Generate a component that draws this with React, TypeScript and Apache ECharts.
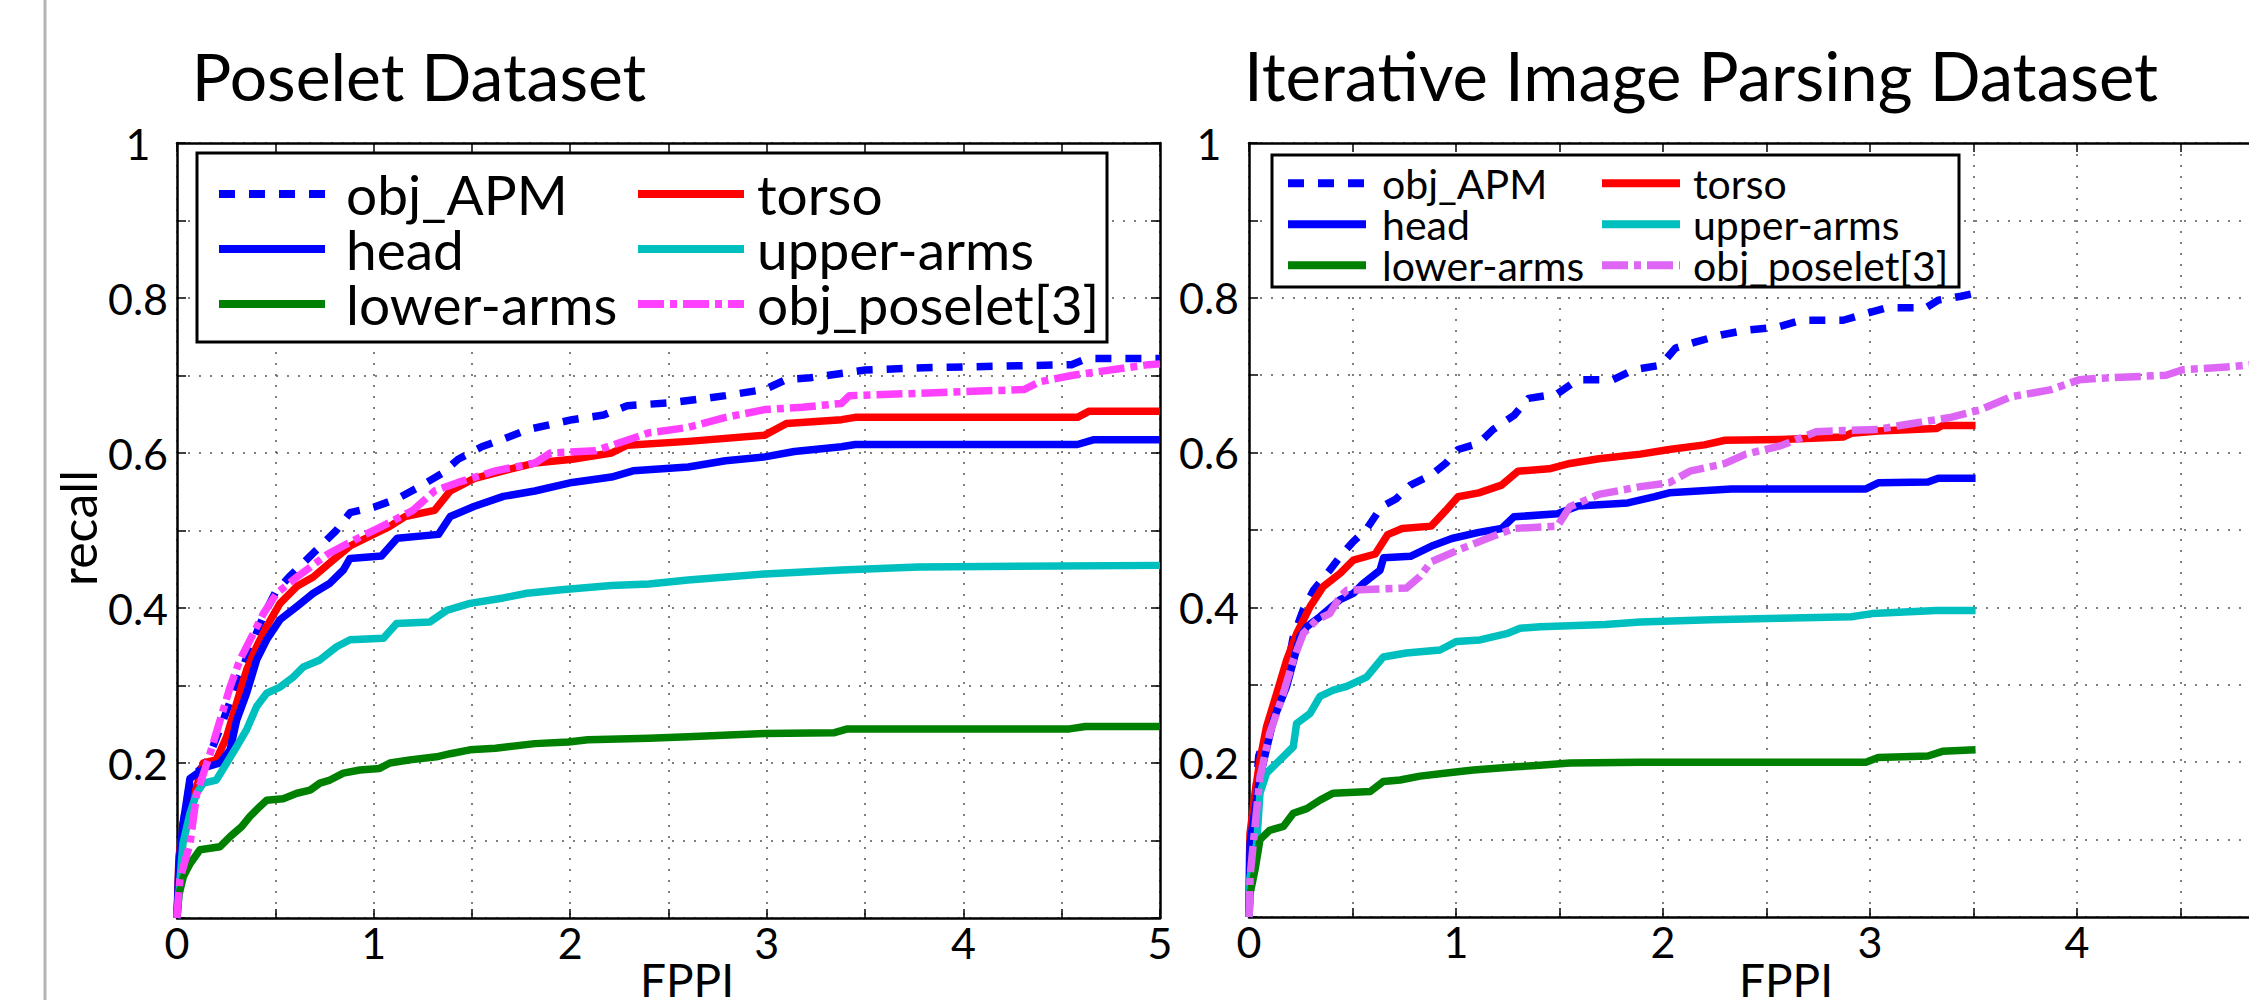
import React, { useEffect, useRef } from 'react';
import * as echarts from 'echarts';

type Pt = [number, number];

const titles = ['Poselet Dataset', 'Iterative Image Parsing Dataset'];
const xAxisName = 'FPPI';
const yAxisName = 'recall';
const legendCol1 = ['obj_APM', 'head', 'lower-arms'];
const legendCol2 = ['torso', 'upper-arms', 'obj_poselet[3]'];

// ---- Poselet Dataset (left) ----
const poseletApm: Pt[] = [[0,0],[0.01,0.06],[0.03,0.12],[0.07,0.18],[0.15,0.2],[0.22,0.245],[0.3,0.3],[0.36,0.34],[0.44,0.39],[0.5,0.42],[0.57,0.44],[0.69,0.47],[0.81,0.5],[0.88,0.523],[1.0,0.53],[1.12,0.541],[1.23,0.556],[1.35,0.574],[1.43,0.592],[1.55,0.608],[1.66,0.618],[1.78,0.63],[2.01,0.643],[2.17,0.649],[2.29,0.661],[2.52,0.665],[2.79,0.674],[2.99,0.682],[3.1,0.695],[3.22,0.697],[3.5,0.707],[3.8,0.71],[4.55,0.714],[4.63,0.722],[5,0.722]];
const poseletTorso: Pt[] = [[0,0],[0.01,0.08],[0.032,0.118],[0.05,0.139],[0.1,0.169],[0.134,0.2],[0.2,0.204],[0.253,0.234],[0.303,0.277],[0.354,0.32],[0.405,0.35],[0.456,0.376],[0.524,0.406],[0.61,0.428],[0.693,0.44],[0.795,0.462],[0.88,0.48],[0.96,0.49],[1.08,0.505],[1.16,0.518],[1.31,0.526],[1.39,0.551],[1.51,0.567],[1.66,0.577],[1.82,0.587],[2.01,0.592],[2.21,0.6],[2.29,0.61],[2.6,0.615],[2.99,0.623],[3.1,0.638],[3.38,0.643],[3.45,0.646],[4.58,0.646],[4.64,0.654],[5,0.654]];
const poseletHead: Pt[] = [[0,0],[0.01,0.07],[0.03,0.12],[0.066,0.18],[0.15,0.195],[0.219,0.2],[0.27,0.217],[0.303,0.255],[0.354,0.29],[0.405,0.333],[0.456,0.359],[0.524,0.385],[0.61,0.402],[0.693,0.419],[0.778,0.432],[0.846,0.449],[0.88,0.464],[1.04,0.467],[1.12,0.49],[1.33,0.495],[1.39,0.518],[1.51,0.531],[1.66,0.544],[1.82,0.551],[2.01,0.562],[2.21,0.569],[2.32,0.577],[2.6,0.582],[2.79,0.59],[2.99,0.595],[3.14,0.602],[3.38,0.608],[3.45,0.611],[4.58,0.611],[4.66,0.617],[5,0.617]];
const poseletUpper: Pt[] = [[0,0],[0.01,0.032],[0.03,0.096],[0.066,0.135],[0.1,0.161],[0.134,0.174],[0.2,0.178],[0.253,0.2],[0.303,0.221],[0.354,0.243],[0.405,0.273],[0.456,0.29],[0.524,0.298],[0.592,0.311],[0.643,0.324],[0.727,0.333],[0.812,0.35],[0.88,0.359],[1.05,0.361],[1.117,0.38],[1.287,0.382],[1.372,0.397],[1.49,0.406],[1.66,0.413],[1.78,0.419],[1.97,0.424],[2.21,0.429],[2.4,0.431],[2.6,0.436],[2.99,0.444],[3.38,0.449],[3.77,0.453],[5,0.455]];
const poseletLower: Pt[] = [[0,0],[0.01,0.03],[0.032,0.053],[0.066,0.07],[0.117,0.088],[0.219,0.092],[0.27,0.105],[0.329,0.118],[0.371,0.131],[0.422,0.144],[0.456,0.152],[0.54,0.154],[0.61,0.161],[0.677,0.165],[0.727,0.174],[0.778,0.178],[0.846,0.187],[0.93,0.191],[1.03,0.193],[1.083,0.2],[1.185,0.204],[1.32,0.208],[1.39,0.212],[1.49,0.217],[1.62,0.219],[1.82,0.225],[1.99,0.227],[2.09,0.23],[2.4,0.232],[2.6,0.234],[2.99,0.238],[3.34,0.239],[3.41,0.244],[4.54,0.244],[4.62,0.247],[5,0.247]];
const poseletPoselet: Pt[] = [[0,0],[0.005,0.02],[0.015,0.05],[0.066,0.096],[0.1,0.16],[0.168,0.212],[0.219,0.255],[0.27,0.298],[0.32,0.333],[0.388,0.367],[0.44,0.393],[0.507,0.419],[0.61,0.44],[0.727,0.462],[0.77,0.47],[0.92,0.49],[1.04,0.505],[1.2,0.526],[1.31,0.551],[1.43,0.562],[1.62,0.577],[1.82,0.587],[1.9,0.6],[2.13,0.603],[2.4,0.626],[2.6,0.633],[2.79,0.646],[2.99,0.656],[3.18,0.659],[3.38,0.664],[3.42,0.674],[3.77,0.677],[4.31,0.682],[4.39,0.692],[4.55,0.7],[4.94,0.714],[5,0.715]];

// ---- Iterative Image Parsing Dataset (right) ----
const iipApm: Pt[] = [[0,0],[0.01,0.08],[0.03,0.15],[0.047,0.208],[0.1,0.25],[0.166,0.295],[0.214,0.362],[0.262,0.397],[0.311,0.422],[0.39,0.448],[0.45,0.469],[0.5,0.484],[0.57,0.502],[0.64,0.53],[0.71,0.54],[0.78,0.558],[0.88,0.571],[0.95,0.586],[1.01,0.604],[1.11,0.612],[1.18,0.63],[1.28,0.648],[1.35,0.67],[1.49,0.676],[1.587,0.694],[1.756,0.694],[1.858,0.707],[1.99,0.713],[2.06,0.735],[2.16,0.743],[2.28,0.752],[2.4,0.758],[2.55,0.762],[2.67,0.771],[2.87,0.771],[2.96,0.778],[3.08,0.787],[3.27,0.787],[3.33,0.797],[3.44,0.802],[3.51,0.806]];
const iipTorso: Pt[] = [[0,0],[0.002,0.074],[0.005,0.108],[0.029,0.16],[0.053,0.203],[0.085,0.246],[0.134,0.289],[0.182,0.332],[0.23,0.366],[0.295,0.401],[0.359,0.427],[0.44,0.444],[0.504,0.461],[0.61,0.469],[0.67,0.494],[0.74,0.502],[0.88,0.505],[0.95,0.525],[1.01,0.543],[1.11,0.548],[1.22,0.558],[1.3,0.576],[1.45,0.579],[1.55,0.586],[1.69,0.592],[1.89,0.598],[2.03,0.604],[2.2,0.61],[2.3,0.616],[2.57,0.617],[2.87,0.62],[2.91,0.625],[3.04,0.628],[3.32,0.631],[3.35,0.635],[3.51,0.635]];
const iipHead: Pt[] = [[0,0],[0.005,0.095],[0.053,0.181],[0.118,0.255],[0.182,0.298],[0.246,0.362],[0.279,0.375],[0.343,0.388],[0.44,0.41],[0.504,0.418],[0.552,0.431],[0.633,0.448],[0.65,0.464],[0.78,0.466],[0.88,0.479],[0.98,0.489],[1.11,0.497],[1.22,0.502],[1.28,0.517],[1.49,0.521],[1.59,0.531],[1.83,0.535],[1.96,0.543],[2.03,0.548],[2.33,0.553],[2.98,0.553],[3.04,0.561],[3.28,0.562],[3.33,0.567],[3.51,0.567]];
const iipUpper: Pt[] = [[0,0],[0.005,0.052],[0.037,0.095],[0.053,0.16],[0.085,0.186],[0.15,0.203],[0.214,0.22],[0.23,0.25],[0.295,0.263],[0.343,0.285],[0.407,0.293],[0.472,0.298],[0.568,0.31],[0.649,0.336],[0.76,0.341],[0.923,0.345],[1.003,0.356],[1.116,0.358],[1.245,0.366],[1.31,0.373],[1.406,0.375],[1.72,0.378],[1.89,0.381],[2.23,0.384],[2.57,0.386],[2.91,0.388],[3.01,0.392],[3.32,0.396],[3.51,0.396]];
const iipLower: Pt[] = [[0,0],[0.005,0.03],[0.029,0.061],[0.053,0.1],[0.1,0.112],[0.166,0.117],[0.214,0.134],[0.279,0.14],[0.343,0.151],[0.407,0.16],[0.585,0.162],[0.649,0.175],[0.73,0.177],[0.826,0.182],[0.955,0.186],[1.084,0.19],[1.29,0.194],[1.406,0.196],[1.55,0.199],[1.89,0.2],[2.98,0.2],[3.04,0.206],[3.28,0.208],[3.35,0.214],[3.51,0.216]];
const iipPoselet: Pt[] = [[0,0],[0.002,0.009],[0.005,0.052],[0.029,0.117],[0.053,0.181],[0.1,0.237],[0.166,0.289],[0.214,0.332],[0.262,0.366],[0.327,0.384],[0.39,0.392],[0.44,0.414],[0.472,0.422],[0.76,0.425],[0.826,0.44],[0.88,0.459],[1.01,0.474],[1.15,0.489],[1.28,0.502],[1.49,0.505],[1.55,0.53],[1.69,0.546],[1.89,0.556],[2.03,0.561],[2.13,0.576],[2.3,0.586],[2.4,0.598],[2.57,0.609],[2.74,0.627],[3.04,0.63],[3.145,0.635],[3.38,0.645],[3.53,0.655],[3.68,0.672],[3.87,0.681],[4.01,0.694],[4.11,0.696],[4.43,0.7],[4.51,0.707],[4.75,0.711],[4.85,0.714]];

const FONT = 'Lato, "Liberation Sans", sans-serif';
const DASH: number[] = [16, 14];
const DASHDOT: number[] = [26, 6, 7, 6];

const styleOf: Record<string, { color: string; type: any }> = {
  'obj_APM': { color: '#0000ff', type: DASH },
  'torso': { color: '#ff0000', type: 'solid' },
  'head': { color: '#0000ff', type: 'solid' },
  'upper-arms': { color: '#00bfbf', type: 'solid' },
  'lower-arms': { color: '#008000', type: 'solid' },
  'obj_poselet[3]': { color: '#ff40ff', type: DASHDOT },
};
const poseletRight = '#dd66f5';

const xFmtLeft = (v: number) => (Math.abs(v - Math.round(v)) < 1e-6 ? String(Math.round(v)) : '');
const xFmtRight = (v: number) => (Math.abs(v - Math.round(v)) < 1e-6 && Math.round(v) < 5 ? String(Math.round(v)) : '');
const yFmt = (v: number) => {
  const k = Math.round(v * 10);
  if (k === 0 || k % 2) return '';
  return k === 10 ? '1' : (k / 10).toFixed(1);
};

function xAx(g: number, pos: 'bottom' | 'top', fmt: (v: number) => string) {
  const main = pos === 'bottom';
  return {
    type: 'value', gridIndex: g, position: pos, min: 0, max: 5, interval: 0.5,
    axisLine: { show: true, onZero: false, lineStyle: { color: '#000', width: 2.5 } },
    axisTick: { show: true, inside: true, length: 9, lineStyle: { color: '#000', width: 1.5 } },
    axisLabel: { show: main, margin: 3, color: '#000', fontFamily: FONT, fontSize: 43, formatter: fmt },
    splitLine: { show: main, lineStyle: { color: '#555', width: 1.5, type: [2, 9] } },
  };
}
function yAx(g: number, pos: 'left' | 'right', margin: number) {
  const main = pos === 'left';
  return {
    type: 'value', gridIndex: g, position: pos, min: 0, max: 1, interval: 0.1,
    axisLine: { show: true, onZero: false, lineStyle: { color: '#000', width: 2.5 } },
    axisTick: { show: true, inside: true, length: 9, lineStyle: { color: '#000', width: 1.5 } },
    axisLabel: { show: main, margin, align: 'center', color: '#000', fontFamily: FONT, fontSize: 43, formatter: yFmt },
    splitLine: { show: main, lineStyle: { color: '#555', width: 1.5, type: [2, 9] } },
  };
}

function lineSeries(name: string, data: Pt[], axis: number, color?: string) {
  const s = styleOf[name];
  return {
    type: 'line', name, data, xAxisIndex: axis, yAxisIndex: axis,
    symbol: 'none', showSymbol: false, silent: true,
    lineStyle: { color: color || s.color, width: 7.5, type: s.type, cap: 'butt', join: 'round' },
    itemStyle: { color: color || s.color },
    z: 2,
  };
}

function legendItem(name: string, color?: string) {
  const s = styleOf[name];
  return { name, lineStyle: { color: color || s.color, width: 8, type: s.type, cap: 'butt' }, itemStyle: { color: color || s.color, opacity: 0 } };
}

function legendCol(names: string[], left: number, top: number, iw: number, fs: number, lh: number, pad: number, rightPlot: boolean) {
  return {
    show: true, orient: 'vertical', left, top, padding: 0, itemGap: 0,
    itemWidth: iw, itemHeight: 16, selectedMode: false, z: 5,
    textStyle: { fontFamily: FONT, fontSize: fs, lineHeight: lh, color: '#000', padding: [0, 0, 0, pad] },
    data: names.map((n) => legendItem(n, rightPlot && n === 'obj_poselet[3]' ? poseletRight : undefined)),
  };
}

export default function App() {
  const ref = useRef<HTMLDivElement>(null);
  useEffect(() => {
    if (!ref.current) return;
    const chart = echarts.init(ref.current, null, { renderer: 'svg' });
    const option: any = {
      animation: false,
      backgroundColor: '#fff',
      grid: [
        { left: 177, top: 143, width: 983, height: 775 },
        { left: 1249, top: 143, width: 1035, height: 774 },
      ],
      xAxis: [xAx(0, 'bottom', xFmtLeft), xAx(0, 'top', xFmtLeft), xAx(1, 'bottom', xFmtRight), xAx(1, 'top', xFmtRight)],
      yAxis: [yAx(0, 'left', 39), yAx(0, 'right', 0), yAx(1, 'left', 40), yAx(1, 'right', 0)],
      legend: [
        legendCol(legendCol1, 215, 166.5, 106, 55, 51, 16, false),
        legendCol(legendCol2, 634, 166.5, 106, 55, 51, 8, false),
        legendCol(legendCol1, 1284, 162.75, 78, 41, 36.5, 11, true),
        legendCol(legendCol2, 1598, 162.75, 78, 41, 36.5, 8, true),
      ],
      series: [
        lineSeries('obj_APM', poseletApm, 0),
        lineSeries('torso', poseletTorso, 0),
        lineSeries('head', poseletHead, 0),
        lineSeries('upper-arms', poseletUpper, 0),
        lineSeries('lower-arms', poseletLower, 0),
        lineSeries('obj_poselet[3]', poseletPoselet, 0),
        lineSeries('obj_APM', iipApm, 2),
        lineSeries('torso', iipTorso, 2),
        lineSeries('head', iipHead, 2),
        lineSeries('upper-arms', iipUpper, 2),
        lineSeries('lower-arms', iipLower, 2),
        lineSeries('obj_poselet[3]', iipPoselet, 2, poseletRight),
      ],
      graphic: [
        { type: 'line', shape: { x1: 45, y1: 0, x2: 45, y2: 1000 }, style: { stroke: '#b4b4b4', lineWidth: 3 }, z: 1 },
        { type: 'rect', shape: { x: 197, y: 153, width: 910, height: 189 }, style: { fill: '#fff', stroke: '#000', lineWidth: 3 }, z: 4 },
        { type: 'rect', shape: { x: 1272, y: 155, width: 687, height: 132 }, style: { fill: '#fff', stroke: '#000', lineWidth: 3 }, z: 4 },
        { type: 'text', x: 419, y: 75, style: { text: titles[0], fontFamily: FONT, fontSize: 66, fill: '#000', align: 'center', verticalAlign: 'middle' }, z: 5 },
        { type: 'text', x: 1701, y: 75, style: { text: titles[1], fontFamily: FONT, fontSize: 67, fill: '#000', align: 'center', verticalAlign: 'middle' }, z: 5 },
        { type: 'text', x: 78, y: 528, rotation: Math.PI / 2, style: { text: yAxisName, fontFamily: FONT, fontSize: 50, fill: '#000', align: 'center', verticalAlign: 'middle' }, z: 5 },
        { type: 'text', x: 687, y: 979, style: { text: xAxisName, fontFamily: FONT, fontSize: 46, fill: '#000', align: 'center', verticalAlign: 'middle' }, z: 5 },
        { type: 'text', x: 1786, y: 979, style: { text: xAxisName, fontFamily: FONT, fontSize: 46, fill: '#000', align: 'center', verticalAlign: 'middle' }, z: 5 },
      ],
    };
    chart.setOption(option);
    return () => chart.dispose();
  }, []);
  return (
    <div style={{ position: 'fixed', left: 0, top: 0, width: 2249, height: 1000, overflow: 'hidden', background: '#fff' }}>
      <div ref={ref} style={{ width: 2300, height: 1000 }} />
    </div>
  );
}
